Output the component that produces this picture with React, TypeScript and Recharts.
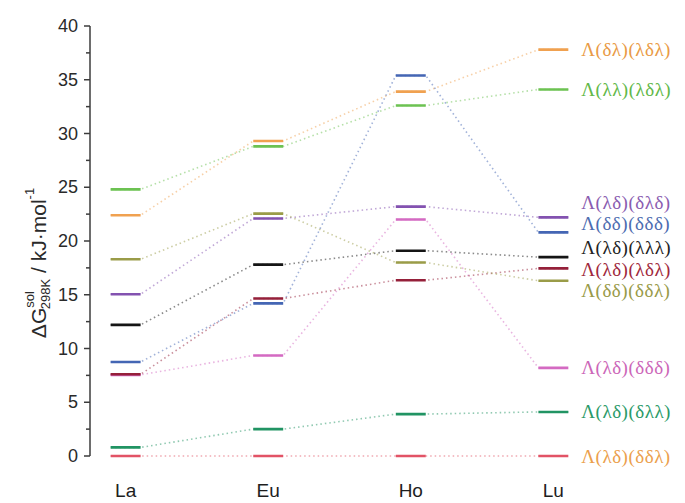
import React from 'react';
import { LineChart, Line, XAxis, YAxis, LabelList } from 'recharts';

// metal centres along the x axis
const categories = ['La', 'Eu', 'Ho', 'Lu'];

// ΔG(sol, 298K) in kJ/mol for each conformer, read per metal
const orangeValues = [22.4, 29.3, 33.9, 37.8];
const lightGreenValues = [24.8, 28.8, 32.6, 34.1];
const purpleValues = [15.05, 22.1, 23.2, 22.2];
const blueValues = [8.75, 14.2, 35.4, 20.8];
const blackValues = [12.2, 17.8, 19.1, 18.5];
const darkRedValues = [7.6, 14.65, 16.35, 17.45];
const oliveValues = [18.3, 22.55, 18.0, 16.3];
const pinkValues = [7.55, 9.35, 22.0, 8.2];
const tealValues = [0.8, 2.5, 3.9, 4.1];
const redValues = [0, 0, 0, 0];

const conformerNames = [
  'Λ(δλ)(λδλ)',
  'Λ(λλ)(λδλ)',
  'Λ(λδ)(δλδ)',
  'Λ(δδ)(δδδ)',
  'Λ(λδ)(λλλ)',
  'Λ(λδ)(λδλ)',
  'Λ(δδ)(δδλ)',
  'Λ(λδ)(δδδ)',
  'Λ(λδ)(δλλ)',
  'Λ(λδ)(δδλ)',
];

const yTicks = [0, 2.5, 5, 7.5, 10, 12.5, 15, 17.5, 20, 22.5, 25, 27.5, 30, 32.5, 35, 37.5, 40];

// half width of a level bar, in category units
const HALF = 0.105;

const series = [
  { name: conformerNames[0], values: orangeValues, color: '#f0a150', text: '#e99a45', dy: 0 },
  { name: conformerNames[1], values: lightGreenValues, color: '#6cc252', text: '#62b848', dy: 0 },
  { name: conformerNames[7], values: pinkValues, color: '#d46ac2', text: '#cc66b8', dy: 0 },
  { name: conformerNames[2], values: purpleValues, color: '#8352b0', text: '#8a5cb0', dy: -15 },
  { name: conformerNames[3], values: blueValues, color: '#4466b4', text: '#4d6cb0', dy: -9 },
  { name: conformerNames[4], values: blackValues, color: '#151515', text: '#222222', dy: -10 },
  { name: conformerNames[5], values: darkRedValues, color: '#95203a', text: '#a0283c', dy: 1 },
  { name: conformerNames[6], values: oliveValues, color: '#9a9c48', text: '#989a48', dy: 10 },
  { name: conformerNames[8], values: tealValues, color: '#219463', text: '#2a9a68', dy: 0 },
  { name: conformerNames[9], values: redValues, color: '#e25366', text: '#eba04c', dy: 0 },
];

// polyline through the bar ends (drawn dotted)
const linkPoints = (values: number[]) =>
  values.flatMap((v, i) => [{ x: i - HALF, y: v }, { x: i + HALF, y: v }]);

// separate solid bars, broken by nulls
const barPoints = (values: number[]) =>
  values.flatMap((v, i) => {
    const pts: { x: number; y: number | null }[] = [{ x: i - HALF, y: v }, { x: i + HALF, y: v }];
    if (i < values.length - 1) pts.push({ x: i + 0.5, y: null });
    return pts;
  });

const YTick = (props: any) => {
  const { x, y, payload } = props;
  const major = payload.value % 5 === 0;
  return (
    <g>
      <line x1={x - (major ? 6 : 4)} y1={y} x2={x} y2={y} stroke="#3c3c3c" strokeWidth={1.5} />
      {major && (
        <text x={x - 12} y={y} textAnchor="end" dominantBaseline="central" fontSize={18} fill="#2a2a2a"
          fontFamily="'Liberation Sans', Arial, sans-serif">
          {payload.value}
        </text>
      )}
    </g>
  );
};

const YLabel = (props: any) => {
  const vb = props.viewBox || { x: 0, y: 0, width: 90, height: 430 };
  const cx = vb.x + 38;
  const cy = vb.y + vb.height / 2 + 22;
  return (
    <text x={cx} y={cy} transform={`rotate(-90, ${cx}, ${cy})`} textAnchor="middle" dominantBaseline="central"
      fontSize={21} fill="#2a2a2a" fontFamily="'Liberation Sans', Arial, sans-serif">
      ΔG
      <tspan fontSize={13} dy={-9}>sol</tspan>
      <tspan fontSize={13} dx={-18} dy={16}>298K</tspan>
      <tspan dy={-7}> / kJ·mol</tspan>
      <tspan fontSize={13} dy={-9}>-1</tspan>
    </text>
  );
};

const App = () => {
  const last = categories.length * 2 - 1;
  return (
    <div style={{ position: 'absolute', left: 0, top: 0, background: '#fff' }}>
      <LineChart width={685} height={503} margin={{ top: 26, right: 96, bottom: 7, left: 0 }}>
        <XAxis
          type="number"
          dataKey="x"
          domain={[-0.25, 3.25]}
          ticks={[0, 1, 2, 3]}
          allowDataOverflow
          tickFormatter={(i: number) => categories[i]}
          axisLine={false}
          tickLine={false}
          tickSize={6}
          tickMargin={22}
          height={40}
          tick={{ fill: '#1e1e1e', fontSize: 19, fontFamily: "'Liberation Sans', Arial, sans-serif" }}
        />
        <YAxis
          type="number"
          domain={[0, 40]}
          ticks={yTicks}
          interval={0}
          width={90}
          tickSize={0}
          tickMargin={0}
          tickLine={false}
          axisLine={{ stroke: '#3c3c3c', strokeWidth: 1.5 }}
          tick={<YTick />}
          label={(p: any) => <YLabel {...p} />}
        />
        {series.map((s) => (
          <Line
            key={`link-${s.name}`}
            data={linkPoints(s.values)}
            dataKey="y"
            stroke={s.color}
            strokeOpacity={0.5}
            strokeWidth={1.6}
            strokeDasharray="1.5 3"
            dot={false}
            activeDot={false}
            isAnimationActive={false}
          />
        ))}
        {series.map((s) => (
          <Line
            key={`bar-${s.name}`}
            data={barPoints(s.values)}
            dataKey="y"
            stroke={s.color}
            strokeWidth={2.6}
            dot={false}
            activeDot={false}
            connectNulls={false}
            isAnimationActive={false}
          />
        ))}
        {series.map((s) => (
          <Line
            key={`label-${s.name}`}
            data={linkPoints(s.values)}
            dataKey="y"
            stroke="none"
            dot={false}
            activeDot={false}
            isAnimationActive={false}
          >
            <LabelList
              dataKey="y"
              content={(p: any) =>
                p.index === last ? (
                  <text x={p.x + 13} y={p.y + s.dy} dominantBaseline="central" fontSize={19} letterSpacing={0.5}
                    fill={s.text} fontFamily="'Liberation Serif', 'Times New Roman', serif">
                    {s.name}
                  </text>
                ) : null
              }
            />
          </Line>
        ))}
      </LineChart>
    </div>
  );
};

export default App;
